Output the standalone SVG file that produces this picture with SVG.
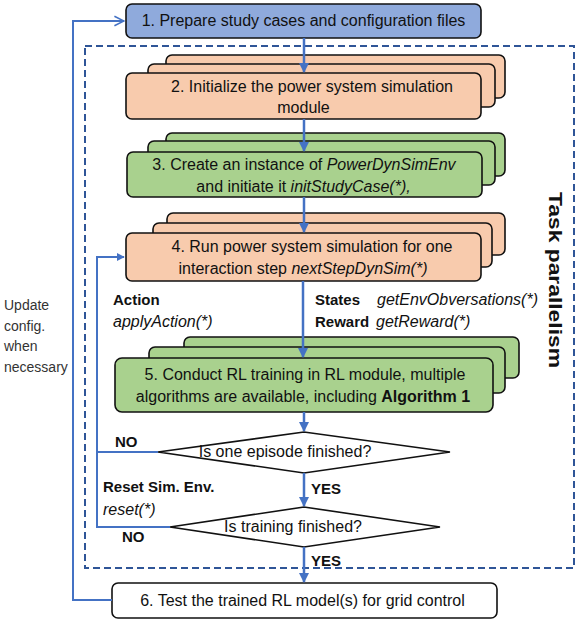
<svg xmlns="http://www.w3.org/2000/svg" width="576" height="622" viewBox="0 0 576 622">
<defs>
<marker id="ah" viewBox="0 0 10 10" refX="9" refY="5" markerWidth="4" markerHeight="4" orient="auto" markerUnits="strokeWidth">
<path d="M0,0 L10,5 L0,10 z" fill="#4472C4"/>
</marker>
<marker id="ao" viewBox="0 0 10 10" refX="9" refY="5" markerWidth="6" markerHeight="6" orient="auto" markerUnits="strokeWidth">
<path d="M1,1 L9,5 L1,9" fill="none" stroke="#4472C4" stroke-width="1.3"/>
</marker>
<style>
.t{font-family:"Liberation Sans",Arial,sans-serif;font-size:16px;fill:#111;}
.c{text-anchor:middle;}
.b{font-weight:bold;}
.i{font-style:italic;}
.lb{font-size:15px;}
.u{font-size:14px;fill:#333;}
.box{stroke:#111;stroke-width:1.6;}
.or{fill:#F8CBAD;}
.gr{fill:#A9D18E;}
.bl{fill:#8FAADC;}
.wh{fill:#fff;}
.ln{fill:none;stroke:#4472C4;stroke-width:2.5;}
.lt{fill:none;stroke:#4472C4;stroke-width:2;}
</style>
</defs>
<rect width="576" height="622" fill="#fff"/>
<rect x="85" y="46" width="489" height="522" fill="none" stroke="#2F5597" stroke-width="2" stroke-dasharray="7,4"/>
<text class="t b" transform="translate(549,280) rotate(90)" text-anchor="middle" style="font-size:19px" textLength="176" lengthAdjust="spacingAndGlyphs">Task parallelism</text>

<g id="n1">
<rect class="box bl" x="126" y="4" width="355" height="34" rx="6"/>
<text class="t c" x="303.5" y="26">1. Prepare study cases and configuration files</text>
</g>
<g id="n2">
<rect class="box or" x="166" y="55" width="339" height="43" rx="6"/>
<rect class="box or" x="148" y="64" width="347" height="43" rx="6"/>
<rect class="box or" x="126" y="73" width="355" height="46" rx="6"/>
<text class="t c" x="312" y="92">2. Initialize the power system simulation</text>
<text class="t c" x="303.5" y="113">module</text>
</g>
<g id="n3">
<rect class="box gr" x="166" y="133" width="339" height="43" rx="6"/>
<rect class="box gr" x="148" y="141" width="347" height="44" rx="6"/>
<rect class="box gr" x="127" y="152" width="355" height="45" rx="6"/>
<text class="t c" x="304" y="170">3. Create an instance of <tspan class="i">PowerDynSimEnv</tspan></text>
<text class="t c" x="303.5" y="192">and initiate it  <tspan class="i">initStudyCase(*),</tspan></text>
</g>
<g id="n4">
<rect class="box or" x="167" y="213" width="338" height="42" rx="6"/>
<rect class="box or" x="153" y="223" width="339" height="44" rx="6"/>
<rect class="box or" x="126" y="233" width="355" height="48" rx="6"/>
<text class="t c" x="312" y="252">4. Run power system simulation for one</text>
<text class="t c" x="303" y="274">interaction step  <tspan class="i">nextStepDynSim(*)</tspan></text>
</g>
<g id="n5">
<rect class="box gr" x="184" y="337" width="335" height="41" rx="6"/>
<rect class="box gr" x="149" y="347" width="356" height="46" rx="6"/>
<rect class="box gr" x="115" y="358" width="378" height="54" rx="7"/>
<text class="t c" x="305" y="380">5. Conduct RL training in RL module, multiple</text>
<text class="t c" x="303" y="402">algorithms are available, including <tspan class="b">Algorithm 1</tspan></text>
</g>
<g id="d1">
<polygon class="wh" points="158,452 304,432 450,452 304,473" stroke="#111" stroke-width="1.6"/>
<text class="t c" x="285" y="457">Is one episode finished?</text>
</g>
<g id="d2">
<polygon class="wh" points="170,527 304,507 440,527 304,547" stroke="#111" stroke-width="1.6"/>
<text class="t c" x="293" y="532">Is training finished?</text>
</g>
<g id="n6">
<rect class="box wh" x="112" y="583" width="385" height="35" rx="6"/>
<text class="t c" x="302.5" y="606">6. Test the trained RL model(s) for grid control</text>
</g>

<g id="connectors">
<line class="ln" x1="304" y1="38" x2="304" y2="72" marker-end="url(#ah)"/>
<line class="ln" x1="304" y1="119" x2="304" y2="151" marker-end="url(#ah)"/>
<line class="ln" x1="304" y1="197" x2="304" y2="232" marker-end="url(#ah)"/>
<line class="ln" x1="303" y1="281" x2="303" y2="357" marker-end="url(#ah)"/>
<line class="ln" x1="304" y1="412" x2="304" y2="431" marker-end="url(#ah)"/>
<line class="ln" x1="304" y1="473" x2="304" y2="506" marker-end="url(#ah)"/>
<line class="ln" x1="304" y1="547" x2="304" y2="582" marker-end="url(#ah)"/>
<polyline class="lt" points="158,452 97,452"/>
<polyline class="lt" points="170,527 97,527 97,257 124,257" marker-end="url(#ah)"/>
<polyline class="lt" points="112,600 73,600 73,21 124,21" marker-end="url(#ao)"/>
</g>

<g id="labels">
<text class="t b lb" x="113" y="305">Action</text>
<text class="t i" x="113" y="327">applyAction(*)</text>
<text class="t b lb" x="315" y="305">States</text>
<text class="t i" x="377" y="305">getEnvObversations(*)</text>
<text class="t b lb" x="315" y="327">Reward</text>
<text class="t i" x="376" y="327">getReward(*)</text>
<text class="t b lb" x="115" y="447">NO</text>
<text class="t b lb" x="122" y="542">NO</text>
<text class="t b lb" x="311" y="494">YES</text>
<text class="t b lb" x="311" y="566">YES</text>
<text class="t b lb" x="103" y="492">Reset Sim. Env.</text>
<text class="t i" x="103" y="515">reset(*)</text>
<text class="t u" x="4" y="310">Update</text>
<text class="t u" x="4" y="331">config.</text>
<text class="t u" x="4" y="351">when</text>
<text class="t u" x="4" y="372">necessary</text>
</g>
</svg>
